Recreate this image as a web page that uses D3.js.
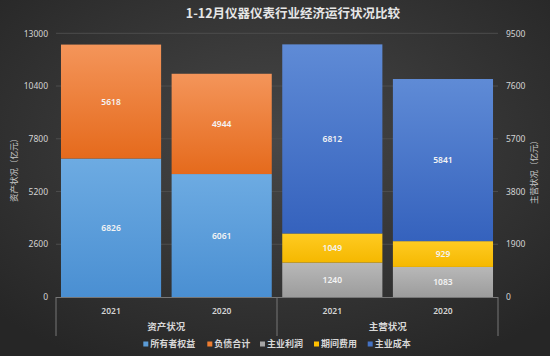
<!DOCTYPE html>
<html><head><meta charset="utf-8">
<script src="https://cdn.jsdelivr.net/npm/d3@7"></script>
<style>
html,body{margin:0;padding:0;background:#2a2a2a;}
svg{display:block;font-family:"Noto Sans CJK SC","Noto Sans",sans-serif;}
</style></head><body>
<svg id="c" width="550" height="356"></svg>
<script>
const title = "1-12月仪器仪表行业经济运行状况比较";
const years = ["2021", "2020", "2021", "2020"];
const groups = ["资产状况", "主营状况"];
const equity = [6826, 6061];
const liabilities = [5618, 4944];
const profit = [1240, 1083];
const expense = [1049, 929];
const cost = [6812, 5841];
const leftTicks = [0, 2600, 5200, 7800, 10400, 13000];
const rightTicks = [0, 1900, 3800, 5700, 7600, 9500];
const leftTitle = "资产状况（亿元）";
const rightTitle = "主营状况（亿元）";
const legendNames = ["所有者权益", "负债合计", "主业利润", "期间费用", "主业成本"];

const svg = d3.select("#c");
const W = 550, H = 356;
const defs = svg.append("defs");
const bg = defs.append("radialGradient").attr("id", "bg").attr("cx", "50%").attr("cy", "40%").attr("r", "70%");
bg.append("stop").attr("offset", "0%").attr("stop-color", "#474747");
bg.append("stop").attr("offset", "100%").attr("stop-color", "#262626");
svg.append("rect").attr("width", W).attr("height", H).attr("fill", "url(#bg)");

const colors = {
  "所有者权益": ["#6dabe2", "#4a8fd2", "#5b9bd5"],
  "负债合计": ["#f4955a", "#e56a1c", "#ed7d31"],
  "主业利润": ["#b8b8b8", "#9c9c9c", "#a5a5a5"],
  "期间费用": ["#ffcb22", "#f5b800", "#ffc000"],
  "主业成本": ["#5f8bd6", "#3562bd", "#4472c4"]
};
legendNames.forEach((n, i) => {
  const g = defs.append("linearGradient").attr("id", "g" + i).attr("x1", 0).attr("y1", 0).attr("x2", 0).attr("y2", 1);
  g.append("stop").attr("offset", "0%").attr("stop-color", colors[n][0]);
  g.append("stop").attr("offset", "100%").attr("stop-color", colors[n][1]);
});

const plot = {l: 56, r: 498, t: 33.3, b: 297};
const x = d3.scaleBand().domain(d3.range(years.length)).range([plot.l, plot.r]).paddingInner(0.095).paddingOuter(0.045);
const yL = d3.scaleLinear().domain([0, 13000]).range([plot.b, plot.t]);
const yR = d3.scaleLinear().domain([0, 9500]).range([plot.b, plot.t]);

// gridlines
svg.append("g").selectAll("line").data(leftTicks.slice(1)).join("line")
  .attr("x1", plot.l).attr("x2", plot.r).attr("y1", d => yL(d)).attr("y2", d => yL(d))
  .attr("stroke", "#4d4d4d").attr("stroke-width", 1);

// axes
const axL = svg.append("g").attr("transform", `translate(${plot.l - 8},0)`)
  .call(d3.axisLeft(yL).tickValues(leftTicks).tickSize(0).tickFormat(d3.format("d")));
const axR = svg.append("g").attr("transform", `translate(${plot.r + 8},0)`)
  .call(d3.axisRight(yR).tickValues(rightTicks).tickSize(0).tickFormat(d3.format("d")));
[axL, axR].forEach(a => {
  a.select(".domain").remove();
  a.selectAll("text").attr("fill", "#d4d4d4").attr("font-size", "8.5px").attr("font-family", "'Noto Sans','DejaVu Sans',sans-serif");
});
axL.selectAll("text").attr("x", 0);
axR.selectAll("text").attr("x", 0);

// stacks
const stacks = [];
for (let i = 0; i < 2; i++) {
  stacks.push({xi: i, scale: yL, segs: [[legendNames[0], equity[i]], [legendNames[1], liabilities[i]]]});
}
for (let i = 0; i < 2; i++) {
  stacks.push({xi: i + 2, scale: yR, segs: [[legendNames[2], profit[i]], [legendNames[3], expense[i]], [legendNames[4], cost[i]]]});
}
const segData = [];
stacks.forEach(s => {
  let base = 0;
  s.segs.forEach(([n, v]) => {
    segData.push({xi: s.xi, scale: s.scale, name: n, y0: base, y1: base + v, v});
    base += v;
  });
});
svg.append("g").selectAll("rect").data(segData).join("rect")
  .attr("x", d => x(d.xi)).attr("width", x.bandwidth())
  .attr("y", d => d.scale(d.y1)).attr("height", d => d.scale(d.y0) - d.scale(d.y1))
  .attr("fill", d => `url(#g${legendNames.indexOf(d.name)})`);
svg.append("g").selectAll("text").data(segData).join("text")
  .attr("x", d => x(d.xi) + x.bandwidth() / 2)
  .attr("y", d => (d.scale(d.y0) + d.scale(d.y1)) / 2)
  .attr("dy", "0.35em").attr("text-anchor", "middle")
  .attr("fill", "#f4f4f4").attr("font-size", "8.5px").attr("font-weight", "600")
  .attr("font-family", "'Noto Sans','DejaVu Sans',sans-serif")
  .text(d => d.v);

// category axis
const ax = svg.append("g");
ax.append("line").attr("x1", plot.l).attr("x2", plot.r).attr("y1", plot.b + 0.5).attr("y2", plot.b + 0.5).attr("stroke", "#777");
[plot.l, (plot.l + plot.r) / 2, plot.r].forEach(xx => {
  ax.append("line").attr("x1", xx).attr("x2", xx).attr("y1", plot.b).attr("y2", 336).attr("stroke", "#777");
});
ax.selectAll("text.yr").data(years).join("text").attr("class", "yr")
  .attr("x", (d, i) => x(i) + x.bandwidth() / 2).attr("y", 311).attr("dy", "0.35em")
  .attr("text-anchor", "middle").attr("fill", "#d4d4d4").attr("font-size", "8.5px").attr("font-weight", "600")
  .attr("font-family", "'Noto Sans','DejaVu Sans',sans-serif").text(d => d);
ax.selectAll("text.grp").data(groups).join("text").attr("class", "grp")
  .attr("x", (d, i) => (x(i * 2) + x(i * 2 + 1) + x.bandwidth()) / 2).attr("y", 327).attr("dy", "0.35em")
  .attr("text-anchor", "middle").attr("fill", "#d8d8d8").attr("font-size", "9.5px").attr("font-weight", "bold")
  .text(d => d);

// axis titles
svg.append("text").attr("transform", "translate(14,168) rotate(-90)").attr("text-anchor", "middle").attr("dy", "0.35em")
  .attr("fill", "#c8c8c8").attr("font-size", "8.5px").text(leftTitle);
svg.append("text").attr("transform", "translate(534,170) rotate(-90)").attr("text-anchor", "middle").attr("dy", "0.35em")
  .attr("fill", "#c8c8c8").attr("font-size", "8.5px").text(rightTitle);

// title
svg.append("text").attr("x", 293).attr("y", 13.5).attr("dy", "0.35em").attr("text-anchor", "middle")
  .attr("fill", "#e6e6e6").attr("font-size", "12.5px").attr("font-weight", "bold").text(title);

// legend
const legX = [143.3, 207.3, 260, 314, 367.7];
const lg = svg.append("g").selectAll("g").data(legendNames).join("g")
  .attr("transform", (d, i) => `translate(${legX[i]},344)`);
lg.append("rect").attr("x", 0).attr("y", -2.5).attr("width", 5).attr("height", 5).attr("fill", d => colors[d][2]);
lg.append("text").attr("x", 7).attr("dy", "0.35em").attr("fill", "#d8d8d8").attr("font-size", "9px").attr("font-weight", "bold").text(d => d);
</script>
</body></html>
